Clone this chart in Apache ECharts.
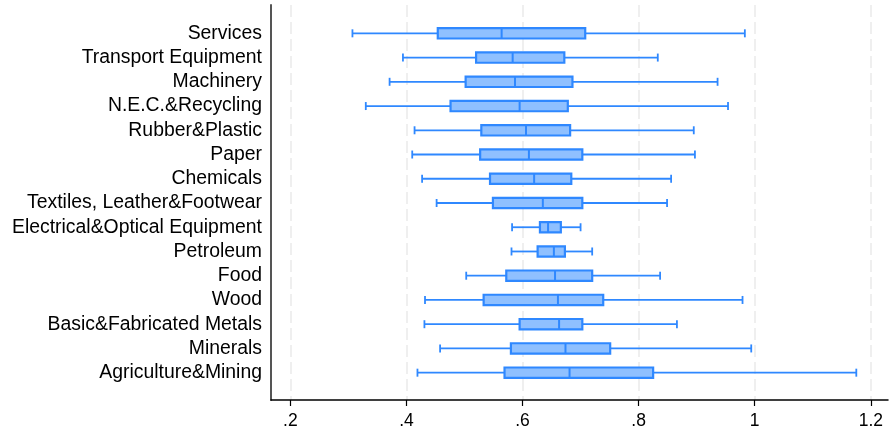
<!DOCTYPE html>
<html>
<head>
<meta charset="utf-8">
<script src="https://cdn.jsdelivr.net/npm/echarts@6/dist/echarts.min.js"></script>
<style>
  html, body { margin: 0; padding: 0; background: #fff; }
  #chart { width: 889px; height: 437px; }
</style>
</head>
<body>
<div id="chart"></div>
<script>
// Industries, top to bottom
const industries = [
  'Services', 'Transport Equipment', 'Machinery', 'N.E.C.&Recycling',
  'Rubber&Plastic', 'Paper', 'Chemicals', 'Textiles, Leather&Footwear',
  'Electrical&Optical Equipment', 'Petroleum', 'Food', 'Wood',
  'Basic&Fabricated Metals', 'Minerals', 'Agriculture&Mining'
];
// Box statistics per industry (same order)
const lowerWhisker = [0.307, 0.394, 0.371, 0.330, 0.414, 0.410, 0.427, 0.452, 0.582, 0.581, 0.503, 0.432, 0.431, 0.458, 0.419];
const quartile1    = [0.454, 0.520, 0.502, 0.476, 0.529, 0.527, 0.544, 0.549, 0.630, 0.626, 0.572, 0.533, 0.595, 0.580, 0.569];
const median       = [0.564, 0.583, 0.587, 0.595, 0.606, 0.611, 0.620, 0.635, 0.644, 0.654, 0.656, 0.661, 0.663, 0.674, 0.681];
const quartile3    = [0.708, 0.672, 0.686, 0.678, 0.682, 0.703, 0.684, 0.703, 0.666, 0.673, 0.720, 0.739, 0.703, 0.751, 0.825];
const upperWhisker = [0.983, 0.833, 0.936, 0.954, 0.895, 0.897, 0.856, 0.849, 0.700, 0.720, 0.837, 0.979, 0.866, 0.994, 1.175];

// Horizontal axis ticks
const tickValues = [0.2, 0.4, 0.6, 0.8, 1.0, 1.2];
const tickLabels = ['.2', '.4', '.6', '.8', '1', '1.2'];

const xMin = 0.1667, xMax = 1.2296;

const boxData = industries.map((name, i) => [
  i, lowerWhisker[i], quartile1[i], median[i], quartile3[i], upperWhisker[i]
]);

const FILL = '#8fc0ff';
const EDGE = '#2f88ff';
const FONT = '"Liberation Sans", Arial, Helvetica, sans-serif';

function renderBox(params, api) {
  const cat = api.value(0);
  const pLow = api.coord([api.value(1), cat]);
  const pQ1 = api.coord([api.value(2), cat]);
  const pMed = api.coord([api.value(3), cat]);
  const pQ3 = api.coord([api.value(4), cat]);
  const pHigh = api.coord([api.value(5), cat]);
  const y = pMed[1];
  const half = 5.2;
  const cap = 4;
  const lineStyle = { stroke: EDGE, lineWidth: 1.8 };
  return {
    type: 'group',
    children: [
      { type: 'line', shape: { x1: pLow[0], y1: y, x2: pQ1[0], y2: y }, style: lineStyle },
      { type: 'line', shape: { x1: pQ3[0], y1: y, x2: pHigh[0], y2: y }, style: lineStyle },
      { type: 'line', shape: { x1: pLow[0], y1: y - cap, x2: pLow[0], y2: y + cap }, style: lineStyle },
      { type: 'line', shape: { x1: pHigh[0], y1: y - cap, x2: pHigh[0], y2: y + cap }, style: lineStyle },
      {
        type: 'rect',
        shape: { x: pQ1[0], y: y - half, width: pQ3[0] - pQ1[0], height: half * 2 },
        style: { fill: FILL, stroke: EDGE, lineWidth: 2.2 }
      },
      { type: 'line', shape: { x1: pMed[0], y1: y - half, x2: pMed[0], y2: y + half }, style: { stroke: EDGE, lineWidth: 2 } }
    ]
  };
}

const chart = echarts.init(document.getElementById('chart'), null, { renderer: 'canvas' });
chart.setOption({
  animation: false,
  backgroundColor: '#ffffff',
  textStyle: { fontFamily: FONT },
  grid: [
    { left: 271, right: 1, top: 5, bottom: 37 },
    { left: 271, right: 1, top: 21.2, bottom: 52.2 }
  ],
  xAxis: [
    {
      gridIndex: 0, type: 'value', min: xMin, max: xMax,
      axisLine: { show: true, onZero: false, lineStyle: { color: '#000', width: 1.5 } },
      axisTick: { show: true, length: 6, customValues: tickValues, lineStyle: { color: '#000', width: 1.2 } },
      axisLabel: {
        show: true, customValues: tickValues, margin: 12,
        fontSize: 17.5, color: '#000', fontFamily: FONT,
        formatter: v => {
          const k = tickValues.findIndex(t => Math.abs(t - v) < 1e-6);
          return k >= 0 ? tickLabels[k] : '';
        }
      },
      splitLine: { show: true, lineStyle: { color: '#ebebeb', width: 1.6, type: [12, 5] } }
    },
    {
      gridIndex: 1, type: 'value', min: xMin, max: xMax, show: false
    }
  ],
  yAxis: [
    {
      gridIndex: 0, type: 'value', min: 0, max: 1,
      axisLine: { show: true, lineStyle: { color: '#555', width: 2 } },
      axisTick: { show: false }, axisLabel: { show: false }, splitLine: { show: false }
    },
    {
      gridIndex: 1, type: 'category', data: industries, inverse: true,
      axisLine: { show: false }, axisTick: { show: false }, splitLine: { show: false },
      axisLabel: { margin: 9, fontSize: 19.4, color: '#000', fontFamily: FONT, interval: 0 }
    }
  ],
  series: [{
    type: 'custom',
    xAxisIndex: 1, yAxisIndex: 1,
    renderItem: renderBox,
    encode: { x: [1, 2, 3, 4, 5], y: 0 },
    data: boxData
  }]
});
</script>
</body>
</html>
